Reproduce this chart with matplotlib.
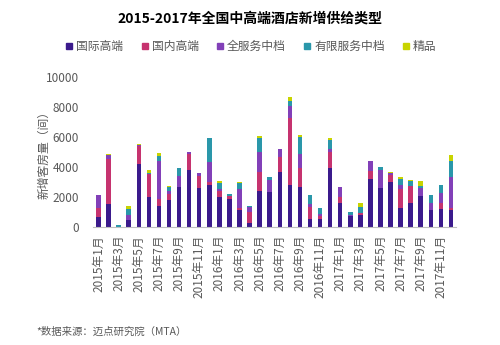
import matplotlib
matplotlib.use("Agg")
import matplotlib.pyplot as plt
import numpy as np

plt.rcParams['font.family'] = ['Noto Sans CJK SC', 'DejaVu Sans']

# months 2015-01 .. 2017-12
months = [f"{y}年{m}月" for y in (2015, 2016, 2017) for m in range(1, 13)]

series_names = ["国际高端", "国内高端", "全服务中档", "有限服务中档", "精品"]
colors = ["#3b1a8c", "#c6336f", "#8240b8", "#2a97aa", "#c8d400"]

intl_high = [620, 1490, 0, 440, 4160, 1980, 1360, 1780, 2670, 3800, 2600, 2780,
             1980, 1820, 1090, 240, 2380, 2310, 3670, 2780, 2640, 490, 530, 3930,
             1600, 690, 760, 3200, 2560, 2980, 1220, 1560, 2070, 1110, 1180, 1090]
dom_high = [600, 3000, 0, 0, 1220, 1510, 510, 400, 0, 1040, 800, 180,
            420, 220, 180, 740, 1260, 0, 950, 4460, 1290, 820, 180, 1030,
            360, 0, 130, 510, 0, 440, 1310, 1150, 0, 0, 380, 180]
full_mid = [890, 290, 0, 340, 90, 0, 2530, 220, 710, 160, 160, 1350,
            90, 0, 1240, 330, 1320, 820, 580, 830, 940, 220, 160, 240,
            710, 110, 0, 650, 1200, 180, 250, 0, 490, 490, 680, 2040]
ltd_mid = [0, 0, 100, 400, 0, 70, 290, 220, 510, 0, 0, 1580,
           440, 160, 400, 90, 970, 160, 0, 310, 1130, 560, 350, 580,
           0, 200, 420, 0, 200, 0, 380, 330, 170, 530, 560, 1090]
boutique = [0, 60, 0, 220, 60, 220, 220, 90, 0, 0, 0, 0,
            140, 0, 70, 0, 140, 0, 0, 240, 130, 0, 0, 130,
            0, 0, 290, 0, 0, 70, 130, 70, 290, 0, 0, 380]

data = [intl_high, dom_high, full_mid, ltd_mid, boutique]

fig = plt.figure(figsize=(5, 3.45), dpi=100)
ax = fig.add_axes([0.186, 0.343, 0.726, 0.435])

x = np.arange(len(months))
bottom = np.zeros(len(months))
for name, vals, c in zip(series_names, data, colors):
    ax.bar(x, vals, width=0.45, bottom=bottom, color=c, label=name)
    bottom += np.array(vals)

ax.set_ylim(0, 10000)
ax.set_xlim(-0.55, 35.5)
ax.set_yticks(range(0, 10001, 2000))
ax.set_xticks(x[::2])
ax.set_xticklabels(months[::2], rotation=90, va='top', ha='center')
ax.tick_params(axis='both', length=0, colors='#595959', labelsize=8.5)
ax.tick_params(axis='x', pad=6)
ax.tick_params(axis='y', pad=10)
for s in ("top", "right", "left"):
    ax.spines[s].set_visible(False)
ax.spines["bottom"].set_color("#bfbfbf")
ax.set_ylabel("新增客房量（间）", color='#595959', fontsize=8.5, labelpad=-3)

fig.text(0.5, 0.945, "2015-2017年全国中高端酒店新增供给类型", ha='center', va='center',
         fontsize=10, fontweight='bold', color='black')

proxies = [plt.Line2D([], [], marker='s', linestyle='', color=c, markersize=5)
           for c in colors]
fig.legend(proxies, series_names, loc='center', bbox_to_anchor=(0.5, 0.866), ncol=5,
           frameon=False, fontsize=8.5, handletextpad=0.1, columnspacing=1.3,
           labelcolor='#595959', handlelength=1.0)

fig.text(0.072, 0.038, "*数据来源：迈点研究院（MTA）", fontsize=7.5, color='#595959',
         va='center')

fig.savefig("out.png", dpi=100)
